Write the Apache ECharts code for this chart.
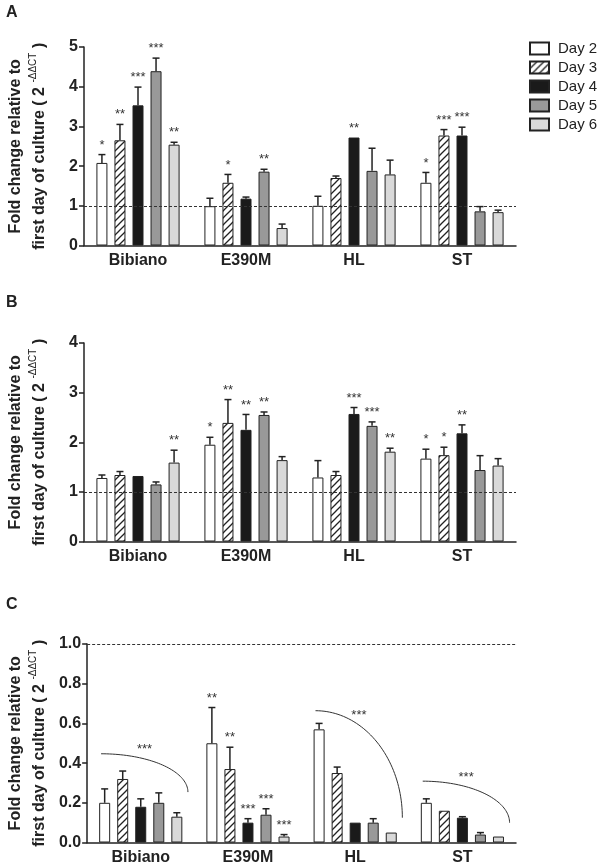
<!DOCTYPE html>
<html><head><meta charset="utf-8">
<script src="https://cdn.jsdelivr.net/npm/echarts@6/dist/echarts.min.js"></script>
<style>html,body{margin:0;padding:0;background:#fff}#c{width:600px;height:868px}</style>
</head><body><div id="c"></div>
<script>
const categories = ['Bibiano', 'E390M', 'HL', 'ST'];
const days = ['Day 2', 'Day 3', 'Day 4', 'Day 5', 'Day 6'];
const panelLetters = ['A', 'B', 'C'];

// Panel A: rows = days, columns = categories
const aMean = [
  [2.08, 0.99, 1.00, 1.58],
  [2.65, 1.58, 1.70, 2.77],
  [3.53, 1.18, 2.72, 2.77],
  [4.39, 1.86, 1.88, 0.86],
  [2.54, 0.44, 1.79, 0.84]
];
const aErrTop = [
  [2.29, 1.19, 1.24, 1.84],
  [3.05, 1.79, 1.75, 2.92],
  [3.99, 1.22, 2.72, 2.98],
  [4.72, 1.92, 2.45, 0.98],
  [2.60, 0.54, 2.15, 0.89]
];
const aSig = [
  ['*', '', '', '*'],
  ['**', '*', '', '***'],
  ['***', '', '**', '***'],
  ['***', '**', '', ''],
  ['**', '', '', '']
];
const aTicks = [0, 1, 2, 3, 4, 5];

// Panel B
const bMean = [
  [1.28, 1.95, 1.29, 1.67],
  [1.34, 2.39, 1.34, 1.74],
  [1.32, 2.25, 2.57, 2.18],
  [1.15, 2.55, 2.33, 1.44],
  [1.59, 1.64, 1.81, 1.53]
];
const bErrTop = [
  [1.34, 2.10, 1.63, 1.86],
  [1.41, 2.86, 1.41, 1.90],
  [1.33, 2.56, 2.70, 2.35],
  [1.20, 2.61, 2.41, 1.73],
  [1.84, 1.71, 1.88, 1.67]
];
const bSig = [
  ['', '*', '', '*'],
  ['', '**', '', '*'],
  ['', '**', '***', '**'],
  ['', '**', '***', ''],
  ['**', '', '**', '']
];
const bTicks = [0, 1, 2, 3, 4];

// Panel C
const cMean = [
  [0.20, 0.50, 0.57, 0.20],
  [0.32, 0.37, 0.35, 0.16],
  [0.18, 0.10, 0.10, 0.125],
  [0.20, 0.14, 0.10, 0.04],
  [0.13, 0.03, 0.05, 0.03]
];
const cErrTop = [
  [0.27, 0.68, 0.60, 0.22],
  [0.36, 0.48, 0.38, 0.16],
  [0.22, 0.12, 0.10, 0.13],
  [0.25, 0.17, 0.12, 0.05],
  [0.15, 0.04, 0.05, 0.03]
];
const cSig = [
  ['', '**', '', ''],
  ['', '**', '', ''],
  ['', '***', '', ''],
  ['', '***', '', ''],
  ['', '***', '', '']
];
const cTicks = [0, 0.2, 0.4, 0.6, 0.8, 1.0];
// trend arcs in panel C
const cArcCat = [0, 2, 3];
const cArcStart = [0.447, 0.664, 0.309];
const cArcEnd = [0.254, 0.125, 0.10];
const cArcSig = ['***', '***', '***'];

const refLine = 1;

// ---------- styling ----------
const FONT = 'Liberation Sans, Arial, Helvetica, sans-serif';
const BAR_W = 11, BAR_GAP = 0.64;
const PITCH = BAR_W * (1 + BAR_GAP);
const INK = '#222';

function hatchCanvas() {
  const s = 7, c = document.createElement('canvas');
  c.width = s; c.height = s;
  const g = c.getContext('2d');
  g.fillStyle = '#fff'; g.fillRect(0, 0, s, s);
  g.strokeStyle = '#222'; g.lineWidth = 1.3;
  g.beginPath();
  g.moveTo(-1, s + 1); g.lineTo(s + 1, -1);
  g.moveTo(-1, 1); g.lineTo(1, -1);
  g.moveTo(s - 1, s + 1); g.lineTo(s + 1, s - 1);
  g.stroke();
  return c;
}
const fills = ['#ffffff', { image: hatchCanvas(), repeat: 'repeat' }, '#1a1a1a', '#999999', '#d9d9d9'];

const panels = [
  { mean: aMean, err: aErrTop, sig: aSig, ticks: aTicks, top: 47, dec: 0 },
  { mean: bMean, err: bErrTop, sig: bSig, ticks: bTicks, top: 343, dec: 0 },
  { mean: cMean, err: cErrTop, sig: cSig, ticks: cTicks, top: 644, dec: 1 }
];
const letterTops = [5, 295, 597];

const grid = [], xAxis = [], yAxis = [], series = [], title = [];

panels.forEach((P, p) => {
  grid.push({ left: 83, width: 433, top: P.top, height: 198.5, containLabel: false });
  title.push({ text: panelLetters[p], left: 6, top: letterTops[p], padding: 0,
    textStyle: { fontFamily: FONT, fontSize: 16, fontWeight: 'bold', color: INK } });
  xAxis.push({
    gridIndex: p, type: 'category', data: categories,
    axisLine: { lineStyle: { color: INK, width: 1.5 } },
    axisTick: { show: false },
    axisLabel: { color: INK, fontFamily: FONT, fontSize: 16, fontWeight: 'bold', margin: 7 }
  });
  const tk = P.ticks;
  yAxis.push({
    gridIndex: p, type: 'value', min: tk[0], max: tk[tk.length - 1], interval: tk[1] - tk[0],
    axisLine: { show: true, lineStyle: { color: INK, width: 1.5 } },
    axisTick: { show: true, length: 5, lineStyle: { color: INK, width: 1.5 } },
    splitLine: { show: false },
    axisLabel: { color: INK, fontFamily: FONT, fontSize: 16, fontWeight: 'bold', margin: 6,
      formatter: v => Number(v).toFixed(P.dec) },
    name: '{b|Fold change relative to}\n{b|first day of culture ( 2 }{s|-ΔΔCT}{b| )}',
    nameLocation: 'middle', nameRotate: 90, nameGap: 32,
    nameTextStyle: {
      fontFamily: FONT,
      rich: {
        b: { fontFamily: FONT, fontSize: 16, fontWeight: 'bold', color: INK, lineHeight: 24 },
        s: { fontFamily: FONT, fontSize: 10, color: INK, lineHeight: 12, verticalAlign: 'top' }
      }
    }
  });

  days.forEach((d, di) => {
    const s = {
      type: 'bar', name: d, xAxisIndex: p, yAxisIndex: p,
      data: P.mean[di], barWidth: BAR_W, barGap: (BAR_GAP * 100) + '%',
      itemStyle: { color: fills[di], borderColor: INK, borderWidth: 1 },
      silent: true
    };
    if (di === 0) {
      s.markLine = {
        silent: true, symbol: 'none', label: { show: false },
        lineStyle: { color: '#333', type: [3, 2], width: 1 },
        data: [{ yAxis: refLine }]
      };
    }
    series.push(s);
  });

  // error bars + significance labels
  const items = [];
  P.mean.forEach((row, di) => row.forEach((m, ci) => {
    items.push({ c: ci, d: di, m: m, e: P.err[di][ci], s: P.sig[di][ci] });
  }));
  series.push({
    type: 'custom', xAxisIndex: p, yAxisIndex: p, silent: true, z: 5,
    data: items.map(it => [it.c, it.e]),
    renderItem: function (params, api) {
      const it = items[params.dataIndex];
      const base = api.coord([it.c, it.m]);
      const top = api.coord([it.c, it.e]);
      const x = base[0] + (it.d - 2) * PITCH;
      const ch = [];
      if (top[1] < base[1] - 0.5) {
        ch.push({ type: 'line', shape: { x1: x, y1: base[1], x2: x, y2: top[1] },
          style: { stroke: INK, lineWidth: 1.5 } });
        ch.push({ type: 'line', shape: { x1: x - 3.5, y1: top[1], x2: x + 3.5, y2: top[1] },
          style: { stroke: INK, lineWidth: 1.5 } });
      }
      if (it.s) {
        ch.push({ type: 'text', style: { x: x, y: top[1] - 3, text: it.s, fill: '#333',
          font: '13px ' + FONT, align: 'center', verticalAlign: 'bottom' } });
      }
      return { type: 'group', children: ch };
    }
  });
});

// arcs in panel C
series.push({
  type: 'custom', xAxisIndex: 2, yAxisIndex: 2, silent: true, z: 6,
  data: cArcCat.map((c, i) => [c, cArcStart[i]]),
  renderItem: function (params, api) {
    const i = params.dataIndex;
    const band = api.size([1, 0])[0];
    const p0 = api.coord([cArcCat[i], cArcStart[i]]);
    const p1 = api.coord([cArcCat[i], cArcEnd[i]]);
    const x0 = p0[0] - 0.37 * band, x1 = p0[0] + 0.44 * band;
    const y0 = p0[1], y1 = p1[1];
    const rx = x1 - x0, ry = y1 - y0;
    const pts = [];
    for (let k = 0; k <= 48; k++) {
      const t = k / 48 * Math.PI / 2;
      pts.push([x0 + rx * Math.sin(t), y1 - ry * Math.cos(t)]);
    }
    const lt = Math.PI / 6;
    return { type: 'group', children: [
      { type: 'polyline', shape: { points: pts }, style: { stroke: '#333', lineWidth: 1, fill: null } },
      { type: 'text', style: { x: x0 + rx * Math.sin(lt), y: y1 - ry * Math.cos(lt) - 3, text: cArcSig[i],
        fill: '#333', font: '13px ' + FONT, align: 'center', verticalAlign: 'bottom' } }
    ] };
  }
});

const chart = echarts.init(document.getElementById('c'), null, { renderer: 'canvas' });
chart.setOption({
  animation: false,
  backgroundColor: '#fff',
  textStyle: { fontFamily: FONT },
  title: title,
  legend: {
    data: days, orient: 'vertical', left: 529, top: 41, padding: 0,
    itemWidth: 19, itemHeight: 12, itemGap: 4, icon: 'rect', selectedMode: false,
    textStyle: { fontFamily: FONT, fontSize: 15, color: INK, padding: [0, 0, 0, 4] }
  },
  grid: grid, xAxis: xAxis, yAxis: yAxis, series: series
});
</script></body></html>
